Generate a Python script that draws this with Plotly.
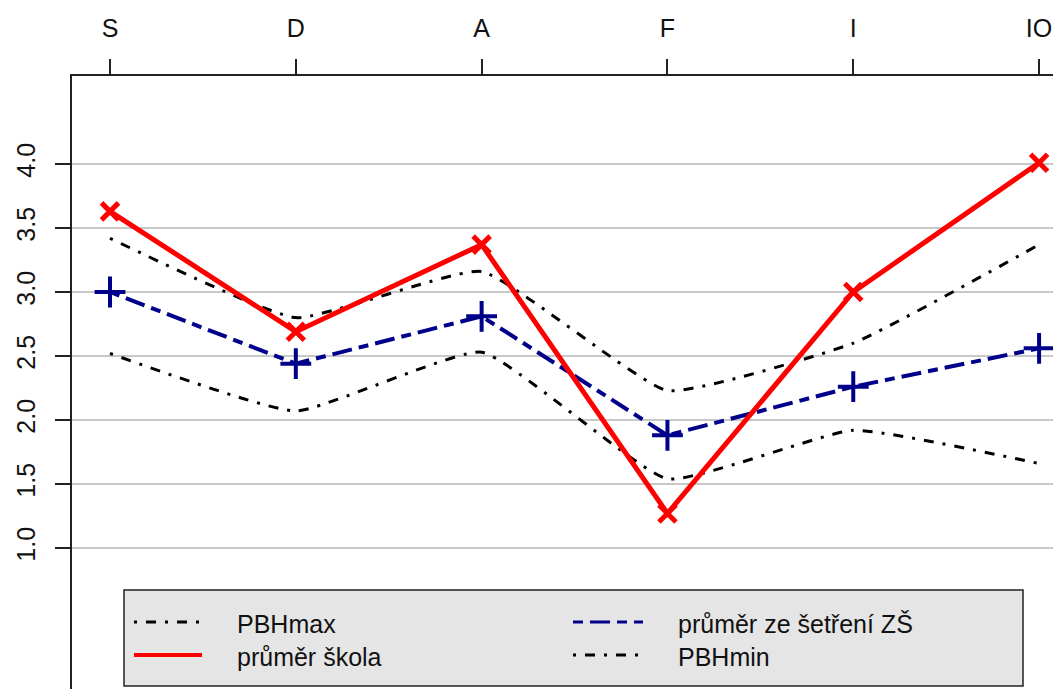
import plotly.graph_objects as go

categories = ["S", "D", "A", "F", "I", "IO"]
pbh_max = [3.42, 2.80, 3.16, 2.23, 2.60, 3.37]
prumer_zs = [3.00, 2.44, 2.81, 1.88, 2.26, 2.56]
prumer_skola = [3.63, 2.69, 3.37, 1.27, 3.00, 4.01]
pbh_min = [2.52, 2.07, 2.53, 1.54, 1.92, 1.66]
y_ticks = [1.0, 1.5, 2.0, 2.5, 3.0, 3.5, 4.0]
y_tick_labels = ["1.0", "1.5", "2.0", "2.5", "3.0", "3.5", "4.0"]

OFF = 8  # default page margin of the browser
W, H = 1061 - OFF, 689 - OFF
L, T = 72 - OFF, 76 - OFF
PW, PH = W - L, H - T
FONT = "Liberation Sans, Arial, sans-serif"

BLACK_DASH = "3px,9px,10px,9px"
BLUE_DASH = "10px,7px,20px,7px"
BLUE = "#00008B"
RED = "#FF0000"

fig = go.Figure()
fig.add_trace(go.Scatter(x=categories, y=pbh_max, mode="lines", name="PBHmax",
                         line=dict(color="black", width=3, dash=BLACK_DASH, shape="spline", smoothing=0.4),
                         showlegend=False))
fig.add_trace(go.Scatter(x=categories, y=pbh_min, mode="lines", name="PBHmin",
                         line=dict(color="black", width=3, dash=BLACK_DASH, shape="spline", smoothing=0.4),
                         showlegend=False))
fig.add_trace(go.Scatter(x=categories, y=prumer_zs, mode="lines+markers", name="průměr ze šetření ZŠ",
                         line=dict(color=BLUE, width=4, dash=BLUE_DASH),
                         marker=dict(symbol="cross-thin", size=22, line=dict(color=BLUE, width=4)),
                         showlegend=False))
fig.add_trace(go.Scatter(x=categories, y=prumer_skola, mode="lines+markers", name="průměr škola",
                         line=dict(color=RED, width=5),
                         marker=dict(symbol="x-thin", size=17, line=dict(color=RED, width=5)),
                         showlegend=False))


def px(xp):
    # xp: screen pixel
    return (xp - OFF - L) / PW


def py(yp):
    return (H - (yp - OFF)) / PH


shapes = []
annotations = []
# legend box
shapes.append(dict(type="rect", xref="paper", yref="paper", x0=px(124), x1=px(1023), y0=py(590), y1=py(686),
                   fillcolor="#e5e5e5", line=dict(color="#222222", width=1.5), layer="above"))
legend_items = [
    ("PBHmax", "black", 3, BLACK_DASH, 134, 202, 622, 235),
    ("průměr škola", RED, 4, "solid", 134, 202, 655, 235),
    ("průměr ze šetření ZŠ", BLUE, 3, BLUE_DASH, 573, 643, 622, 676),
    ("PBHmin", "black", 3, BLACK_DASH, 573, 643, 655, 676),
]
for name, col, w, dash, x0, x1, yy, tx in legend_items:
    shapes.append(dict(type="line", xref="paper", yref="paper", x0=px(x0), x1=px(x1), y0=py(yy), y1=py(yy),
                       line=dict(color=col, width=w, dash=dash), layer="above"))
    annotations.append(dict(xref="paper", yref="paper", x=px(tx), y=py(yy + 2), text=name, showarrow=False,
                            xanchor="left", yanchor="middle", font=dict(family=FONT, size=25, color="#111111")))

fig.update_layout(
    width=W, height=H,
    margin=dict(l=L, r=0, t=T, b=0, pad=0, autoexpand=False),
    paper_bgcolor="white", plot_bgcolor="white",
    font=dict(family=FONT, size=25, color="#111111"),
    shapes=shapes, annotations=annotations,
    showlegend=False,
)
fig.update_xaxes(side="top", type="category", range=[-0.2045, 5.118], automargin=False,
                 showline=True, linecolor="#222222", linewidth=1.5, mirror=False,
                 ticks="outside", ticklen=15, tickwidth=1.5, tickcolor="#222222",
                 showgrid=False, zeroline=False, tickfont=dict(size=25), ticklabelstandoff=12)
fig.update_yaxes(range=[-0.1016, 4.6875], tickvals=y_ticks, ticktext=y_tick_labels, tickangle=-90,
                 automargin=False,
                 showline=True, linecolor="#222222", linewidth=1.5, mirror=False,
                 ticks="outside", ticklen=15, tickwidth=1.5, tickcolor="#222222",
                 showgrid=True, gridcolor="#c8c8c8", gridwidth=1.5, zeroline=False,
                 tickfont=dict(size=25), ticklabelstandoff=10)

fig.write_html("out.html")
